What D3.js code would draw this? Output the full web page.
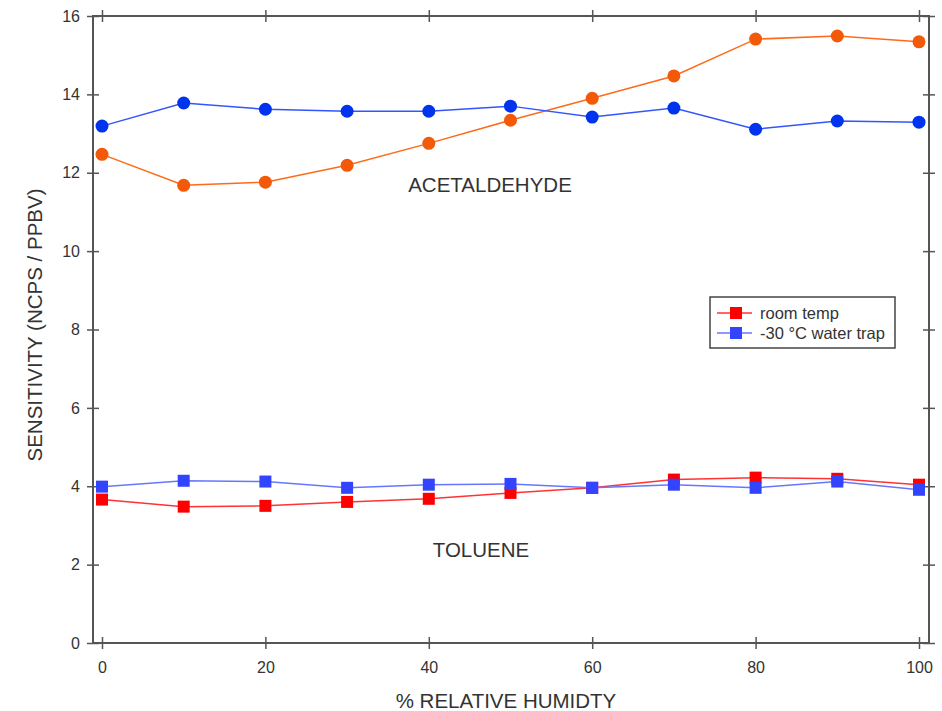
<!DOCTYPE html>
<html>
<head>
<meta charset="utf-8">
<script src="https://cdn.jsdelivr.net/npm/d3@7"></script>
<style>
  body { margin: 0; background: #fff; }
  text { font-family: "Liberation Sans", Arial, sans-serif; fill: #333; }
</style>
</head>
<body>
<div id="chart"></div>
<script>
var svgWidth = 942;
var svgHeight = 711;

// frame edges
var frame = { left: 93, right: 929, top: 16, bottom: 643 };

// data
var humidity = [0, 10, 20, 30, 40, 50, 60, 70, 80, 90, 100];
var acetRoom = [12.47, 11.68, 11.76, 12.19, 12.75, 13.34, 13.9, 14.47, 15.41, 15.49, 15.34];
var acetTrap = [13.19, 13.78, 13.62, 13.57, 13.57, 13.70, 13.42, 13.65, 13.11, 13.32, 13.29];
var tolRoom = [3.66, 3.48, 3.50, 3.60, 3.68, 3.83, 3.96, 4.17, 4.22, 4.19, 4.04];
var tolTrap = [3.99, 4.14, 4.12, 3.96, 4.04, 4.06, 3.96, 4.04, 3.96, 4.12, 3.91];
var xTicks = [0, 20, 40, 60, 80, 100];
var yTicks = [0, 2, 4, 6, 8, 10, 12, 14, 16];
var legendLabels = ["room temp", "-30 \u00B0C water trap"];

var svg = d3.select("#chart")
  .append("svg")
  .attr("width", svgWidth)
  .attr("height", svgHeight);

var xScale = d3.scaleLinear().domain([0, 100]).range([102, 919]);
var yScale = d3.scaleLinear().domain([0, 16]).range([frame.bottom, frame.top]);

// frame
svg.append("rect")
  .attr("x", frame.left)
  .attr("y", frame.top)
  .attr("width", frame.right - frame.left)
  .attr("height", frame.bottom - frame.top)
  .attr("fill", "none")
  .attr("stroke", "#555")
  .attr("stroke-width", 2);

// axes with crossing ticks
function styleAxis(g) {
  g.select(".domain").remove();
  g.selectAll(".tick line").attr("stroke", "#555").attr("stroke-width", 1.5);
  g.selectAll(".tick text").style("font-size", "16px").attr("fill", "#444");
}

var bottomAxis = d3.axisBottom(xScale).tickValues(xTicks).tickSize(6).tickPadding(13);
svg.append("g")
  .attr("transform", `translate(0, ${frame.bottom})`)
  .call(bottomAxis)
  .call(styleAxis)
  .selectAll(".tick line").attr("y1", -6);

svg.append("g")
  .attr("transform", `translate(0, ${frame.top})`)
  .call(d3.axisTop(xScale).tickValues(xTicks).tickSize(6).tickFormat(""))
  .call(styleAxis)
  .selectAll(".tick line").attr("y1", 6);

var leftAxis = d3.axisLeft(yScale).tickValues(yTicks).tickSize(6).tickPadding(7);
svg.append("g")
  .attr("transform", `translate(${frame.left}, 0)`)
  .call(leftAxis)
  .call(styleAxis)
  .selectAll(".tick line").attr("x1", 6);

svg.append("g")
  .attr("transform", `translate(${frame.right}, 0)`)
  .call(d3.axisRight(yScale).tickValues(yTicks).tickSize(6).tickFormat(""))
  .call(styleAxis)
  .selectAll(".tick line").attr("x1", -6);

// series
var series = [
  { values: acetTrap, line: "#3355ff", fill: "#0033ee", shape: "circle" },
  { values: acetRoom, line: "#ff6a1a", fill: "#f25a0a", shape: "circle" },
  { values: tolTrap, line: "#6677ff", fill: "#3344ff", shape: "square" },
  { values: tolRoom, line: "#ff3333", fill: "#ff0000", shape: "square" }
];

var line = d3.line()
  .x((d, i) => xScale(humidity[i]))
  .y(d => yScale(d));

// trap squares sit on top of room temp squares like the source
var drawOrder = [1, 0, 3, 2];
drawOrder.forEach(function(k) {
  var s = series[k];
  var g = svg.append("g");
  g.append("path")
    .datum(s.values)
    .attr("d", line)
    .attr("fill", "none")
    .attr("stroke", s.line)
    .attr("stroke-width", 1.5);

  if (s.shape === "circle") {
    g.selectAll("circle")
      .data(s.values)
      .enter()
      .append("circle")
      .attr("cx", (d, i) => xScale(humidity[i]))
      .attr("cy", d => yScale(d))
      .attr("r", 6.5)
      .attr("fill", s.fill);
  } else {
    g.selectAll("rect")
      .data(s.values)
      .enter()
      .append("rect")
      .attr("x", (d, i) => xScale(humidity[i]) - 6)
      .attr("y", d => yScale(d) - 6)
      .attr("width", 12)
      .attr("height", 12)
      .attr("fill", s.fill);
  }
});

// compound labels
svg.append("text")
  .attr("x", 490)
  .attr("y", 192)
  .attr("text-anchor", "middle")
  .style("font-size", "20.5px")
  .text("ACETALDEHYDE");

svg.append("text")
  .attr("x", 481)
  .attr("y", 557)
  .attr("text-anchor", "middle")
  .style("font-size", "20.5px")
  .text("TOLUENE");

// axis titles
svg.append("text")
  .attr("x", 506)
  .attr("y", 708)
  .attr("text-anchor", "middle")
  .style("font-size", "20.5px")
  .text("% RELATIVE HUMIDTY");

svg.append("text")
  .attr("transform", "translate(42, 325) rotate(-90)")
  .attr("text-anchor", "middle")
  .style("font-size", "20.5px")
  .text("SENSITIVITY (NCPS / PPBV)");

// legend
var legend = svg.append("g").attr("transform", "translate(710, 297)");
legend.append("rect")
  .attr("width", 185)
  .attr("height", 51)
  .attr("fill", "#fff")
  .attr("stroke", "#444")
  .attr("stroke-width", 1.5);

var legendColors = [
  { line: "#ff3333", fill: "#ff0000" },
  { line: "#6677ff", fill: "#3344ff" }
];
legendLabels.forEach(function(label, i) {
  var y = 16 + i * 20;
  legend.append("line")
    .attr("x1", 7).attr("x2", 42)
    .attr("y1", y).attr("y2", y)
    .attr("stroke", legendColors[i].line)
    .attr("stroke-width", 1.5);
  legend.append("rect")
    .attr("x", 20).attr("y", y - 6)
    .attr("width", 12).attr("height", 12)
    .attr("fill", legendColors[i].fill);
  legend.append("text")
    .attr("x", 50)
    .attr("y", y + 6)
    .style("font-size", "16.5px")
    .attr("fill", "#222")
    .text(label);
});
</script>
</body>
</html>
